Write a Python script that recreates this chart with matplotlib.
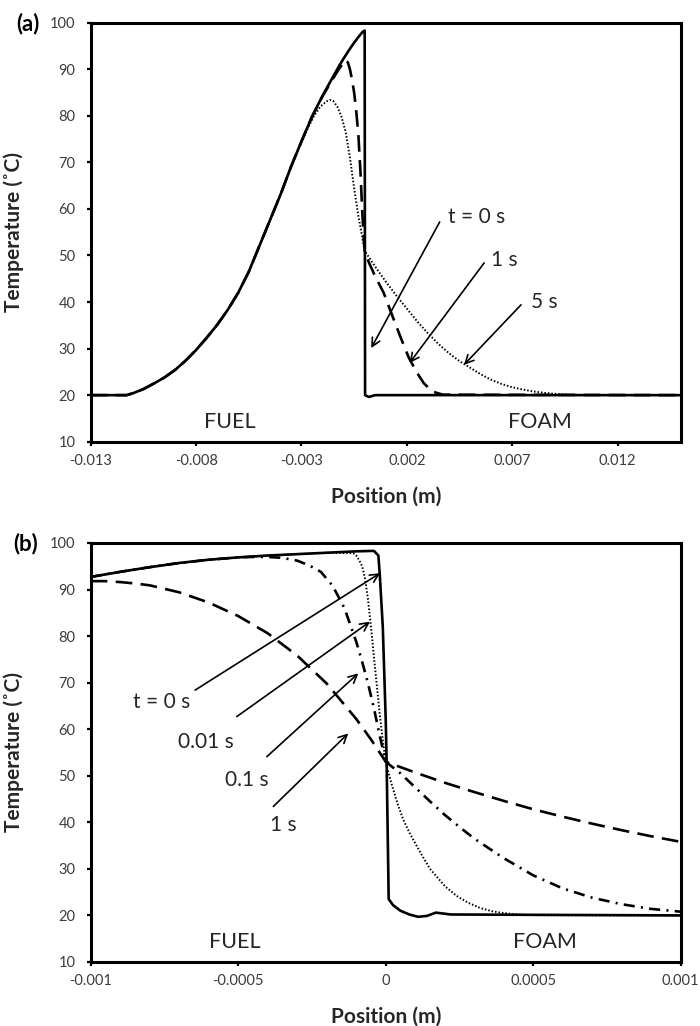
import matplotlib
matplotlib.use("Agg")
import matplotlib.pyplot as plt
from matplotlib.ticker import FixedLocator, FixedFormatter

plt.rcParams['font.family'] = ['Lato', 'DejaVu Sans']
plt.rcParams['lines.scale_dashes'] = False

# ---------------- Data: panel (a) ----------------
a_t0_x = [-0.013, -0.0113, -0.011, -0.0105, -0.010, -0.0095, -0.009, -0.0085, -0.008, -0.0075,
          -0.007, -0.0065, -0.006, -0.0055, -0.005, -0.0045, -0.004, -0.0035, -0.003, -0.0025,
          -0.002, -0.0015, -0.0012, -0.001, -0.0008, -0.0007, -0.0005, -0.0003, -0.0001, 0.0,
          0.00002, 0.0002, 0.0005, 0.015]
a_t0_T = [20.0, 20.0, 20.4, 21.3, 22.5, 23.8, 25.4, 27.4, 29.7, 32.3,
          35.1, 38.3, 42.0, 46.5, 52.0, 57.5, 63.0, 69.0, 74.5, 79.8,
          84.3, 88.4, 90.8, 92.3, 93.7, 94.4, 95.7, 96.9, 98.0, 98.3,
          20.0, 19.6, 20.0, 20.0]

a_t1_x = [-0.013, -0.0113, -0.011, -0.0105, -0.010, -0.0095, -0.009, -0.0085, -0.008, -0.0075,
          -0.007, -0.0065, -0.006, -0.0055, -0.005, -0.0045, -0.004, -0.0035, -0.003, -0.0025,
          -0.002, -0.0015, -0.0012, -0.001, -0.0009, -0.0008, -0.0007, -0.0006, -0.0005, -0.0004,
          -0.0003, -0.0002, -0.00012, -0.00005, 0.0, 0.0002, 0.0005, 0.0009, 0.0013, 0.00175,
          0.0021, 0.0025, 0.0028, 0.0032, 0.0037, 0.015]
a_t1_T = [20.0, 20.0, 20.4, 21.3, 22.5, 23.8, 25.4, 27.4, 29.7, 32.3,
          35.1, 38.3, 42.0, 46.5, 52.0, 57.5, 63.0, 69.0, 74.5, 79.8,
          84.2, 88.0, 90.2, 91.4, 92.0, 91.5, 90.0, 87.8, 85.0, 81.0,
          76.0, 68.0, 60.0, 54.0, 51.0, 48.5, 45.5, 42.0, 37.2, 31.9,
          28.0, 24.7, 22.6, 20.8, 20.1, 20.0]

a_t5_x = [-0.013, -0.0113, -0.011, -0.0105, -0.010, -0.0095, -0.009, -0.0085, -0.008, -0.0075,
          -0.007, -0.0065, -0.006, -0.0055, -0.005, -0.0045, -0.004, -0.0035, -0.003, -0.0027,
          -0.0024, -0.0021, -0.0018, -0.00165, -0.0015, -0.0013, -0.0011, -0.0009, -0.0007, -0.0005,
          -0.0003, -0.00015, 0.0, 0.0005, 0.001, 0.0015, 0.002, 0.0025, 0.003, 0.0035,
          0.004, 0.0045, 0.005, 0.0055, 0.006, 0.0065, 0.007, 0.0075, 0.008, 0.0085,
          0.009, 0.0095, 0.0105, 0.015]
a_t5_T = [20.0, 20.0, 20.4, 21.3, 22.5, 23.8, 25.4, 27.4, 29.7, 32.3,
          35.1, 38.3, 42.0, 46.5, 52.0, 57.5, 63.0, 69.0, 74.3, 77.3,
          80.0, 82.0, 83.1, 83.4, 83.2, 82.0, 79.8, 76.5, 71.0, 64.5,
          58.5, 54.8, 51.0, 47.6, 44.4, 41.4, 38.6, 35.8, 33.3, 31.0,
          29.0, 27.3, 25.9, 24.5, 23.3, 22.4, 21.7, 21.2, 20.8, 20.5,
          20.3, 20.15, 20.0, 20.0]

# ---------------- Data: panel (b) ----------------
b_t0_x = [-0.001, -0.0009, -0.0008, -0.0007, -0.0006, -0.0005, -0.0004, -0.0003, -0.0002, -0.0001,
          -0.00004, -0.000025, -0.00002, -0.00001, 0.0, 0.000003, 0.00001, 0.000025, 0.00005, 0.00008,
          0.00011, 0.00014, 0.00017, 0.00022, 0.001]
b_t0_T = [92.7, 93.8, 94.8, 95.7, 96.4, 96.9, 97.3, 97.6, 97.9, 98.2,
          98.3, 97.3, 93.0, 82.0, 62.0, 53.0, 23.5, 22.2, 21.0, 20.2,
          19.7, 19.9, 20.6, 20.2, 20.0]

b_t001_x = [-0.001, -0.0009, -0.0008, -0.0007, -0.0006, -0.0005, -0.0004, -0.0003, -0.0002, -0.00011,
            -0.0001, -0.00009, -0.00008, -0.00007, -0.00006, -0.00005, -0.00004, -0.00003, -0.00002, -0.00001,
            0.0, 0.00001, 0.00002, 0.00004, 0.00006, 0.00008, 0.0001, 0.00012, 0.00015, 0.00018,
            0.0002, 0.00024, 0.00028, 0.00032, 0.00036, 0.0004, 0.00045, 0.0005, 0.001]
b_t001_T = [92.7, 93.8, 94.8, 95.7, 96.4, 96.9, 97.3, 97.6, 97.9, 97.8,
            97.3, 96.3, 95.0, 92.3, 87.8, 82.0, 75.5, 69.3, 63.0, 57.6,
            53.0, 50.5, 48.2, 44.0, 40.5, 37.8, 35.5, 33.2, 30.0, 27.8,
            26.3, 24.2, 22.7, 21.6, 20.9, 20.5, 20.2, 20.05, 20.0]

b_t01_x = [-0.001, -0.0009, -0.0008, -0.0007, -0.0006, -0.0005, -0.00045, -0.0004, -0.00035, -0.0003,
           -0.00026, -0.00022, -0.00018, -0.00014, -0.0001, -0.00008, -0.00006, -0.00004, -0.00002, 0.0,
           0.00005, 0.0001, 0.00015, 0.0002, 0.00025, 0.0003, 0.00035, 0.0004, 0.0005, 0.0006,
           0.0007, 0.0008, 0.0009, 0.001]
b_t01_T = [92.7, 93.8, 94.8, 95.7, 96.4, 96.9, 97.0, 97.0, 96.8, 96.2,
           95.2, 93.8, 90.8, 86.0, 78.8, 74.5, 69.8, 64.5, 58.5, 53.0,
           50.5, 47.5, 44.5, 41.6, 39.0, 36.5, 34.4, 32.3, 28.6, 25.8,
           23.8, 22.4, 21.4, 20.8]

b_t1_x = [-0.001, -0.00095, -0.0009, -0.00085, -0.0008, -0.0007, -0.0006, -0.0005, -0.0004, -0.0003,
          -0.0002, -0.0001, -0.00005, 0.0, 0.0001, 0.0002, 0.0003, 0.0004, 0.0005, 0.0006,
          0.0007, 0.0008, 0.0009, 0.001]
b_t1_T = [91.8, 91.8, 91.6, 91.3, 90.9, 89.4, 87.2, 84.3, 80.6, 75.8,
          69.8, 62.2, 57.8, 53.0, 50.7, 48.5, 46.5, 44.6, 42.8, 41.2,
          39.7, 38.3, 37.0, 35.8]

# ---------------- Ticks ----------------
yticks = [10, 20, 30, 40, 50, 60, 70, 80, 90, 100]
ytick_labels = ['10', '20', '30', '40', '50', '60', '70', '80', '90', '100']
a_xticks = [-0.013, -0.008, -0.003, 0.002, 0.007, 0.012]
a_xtick_labels = ['-0.013', '-0.008', '-0.003', '0.002', '0.007', '0.012']
b_xticks = [-0.001, -0.0005, 0.0, 0.0005, 0.001]
b_xtick_labels = ['-0.001', '-0.0005', '0', '0.0005', '0.001']

# ---------------- Annotations (text, text pos, arrow start, arrow tip) ----------------
a_notes = [
    ('t = 0 s', (0.00532, 58.3), (0.00356, 57.2), (0.00031, 30.1)),
    ('1 s', (0.00662, 49.0), (0.00567, 48.4), (0.00213, 26.9)),
    ('5 s', (0.00852, 40.1), (0.00742, 39.4), (0.00471, 26.5)),
]
b_notes = [
    ('t = 0 s', (-0.000759, 65.9), (-0.000646, 68.4), (-0.0000193, 93.5)),
    ('0.01 s', (-0.00061, 57.3), (-0.000505, 62.7), (-0.0000532, 83.1)),
    ('0.1 s', (-0.000471, 49.1), (-0.000403, 54.1), (-0.0000929, 72.0)),
    ('1 s', (-0.000346, 39.4), (-0.000381, 43.4), (-0.000127, 59.1)),
]

fig = plt.figure(figsize=(7.0, 10.26), dpi=100)
ax_a = fig.add_axes([0.1296, 0.5695, 0.8429, 0.4084])
ax_b = fig.add_axes([0.1296, 0.0624, 0.8429, 0.4084])

solid = dict(color='black', lw=1.9, solid_joinstyle='round')
dashed = dict(color='black', lw=1.9, linestyle=(0, (12, 6)), dash_capstyle='butt')
dotted = dict(color='black', lw=1.4, linestyle=(0, (1.1, 1.4)), dash_capstyle='butt')
dashdot = dict(color='black', lw=1.9, linestyle=(0, (8, 4.5, 1.5, 4.5)), dash_capstyle='butt')

ax_a.plot(a_t5_x, a_t5_T, **dotted)
ax_a.plot(a_t1_x, a_t1_T, **dashed)
ax_a.plot(a_t0_x, a_t0_T, **solid)

ax_b.plot(b_t1_x, b_t1_T, **dashed)
ax_b.plot(b_t01_x, b_t01_T, **dashdot)
ax_b.plot(b_t001_x, b_t001_T, **dotted)
ax_b.plot(b_t0_x, b_t0_T, **solid)

txt_color = '#262626'
tick_color = '#3c3c3c'

for ax, xt, xtl, xlim, notes, fuel_x, foam_x in [
        (ax_a, a_xticks, a_xtick_labels, (-0.013, 0.015), a_notes, -0.00639, 0.00832),
        (ax_b, b_xticks, b_xtick_labels, (-0.001, 0.001), b_notes, -0.000513, 0.000539)]:
    ax.set_xlim(*xlim)
    ax.set_ylim(10, 100)
    ax.xaxis.set_major_locator(FixedLocator(xt))
    ax.xaxis.set_major_formatter(FixedFormatter(xtl))
    ax.yaxis.set_major_locator(FixedLocator(yticks))
    ax.yaxis.set_major_formatter(FixedFormatter(ytick_labels))
    for s in ax.spines.values():
        s.set_linewidth(2.2)
        s.set_color('black')
    ax.tick_params(axis='both', direction='out', length=3, width=1.6, color='black',
                   labelsize=10.5, labelcolor=tick_color)
    ax.tick_params(axis='x', pad=6)
    ax.tick_params(axis='y', pad=8)
    ax.set_xlabel('Position (m)', fontsize=15, fontweight='bold', color=txt_color, labelpad=13)
    ax.set_ylabel('Temperature (˚C)', fontsize=15, fontweight='bold', color=txt_color)
    ax.yaxis.set_label_coords(-0.113, 0.5)
    for label, tpos, start, tip in notes:
        ax.annotate('', xy=tip, xytext=start,
                    arrowprops=dict(arrowstyle='->', lw=1.2, color='black',
                                    shrinkA=0, shrinkB=0, mutation_scale=15))
        ax.text(tpos[0], tpos[1], label, fontsize=15, ha='center', va='center', color=txt_color)
    ax.text(fuel_x, 14.3, 'FUEL', fontsize=15.5, ha='center', va='center', color=txt_color)
    ax.text(foam_x, 14.3, 'FOAM', fontsize=15.5, ha='center', va='center', color=txt_color)

fig.text(27.5 / 700, 1 - 24 / 1026, '(a)', fontsize=16, fontweight='bold', ha='center', va='center')
fig.text(25.5 / 700, 1 - 544 / 1026, '(b)', fontsize=16, fontweight='bold', ha='center', va='center')

fig.savefig('out.png', dpi=100)
